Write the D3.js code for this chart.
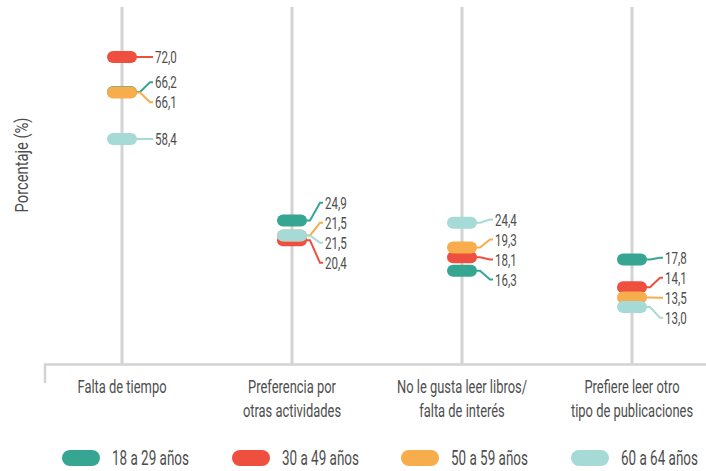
<!DOCTYPE html>
<html>
<head>
<meta charset="utf-8">
<script src="https://cdn.jsdelivr.net/npm/d3@7"></script>
<style>
  body { margin: 0; background: #fff; }
  text { font-family: Roboto, "Noto Sans", sans-serif; fill: #4d4d4d; }
</style>
</head>
<body>
<div id="chart"></div>
<script>
// reasons for not reading, by age group (percent)
const categories = [
    ["Falta de tiempo"],
    ["Preferencia por", "otras actividades"],
    ["No le gusta leer libros/", "falta de interés"],
    ["Prefiere leer otro", "tipo de publicaciones"]
];
const seriesNames = ["18 a 29 años", "30 a 49 años", "50 a 59 años", "60 a 64 años"];
const seriesColors = ["#36a693", "#ee4f3f", "#f8ad4c", "#a6dad6"];
const v18a29 = [66.2, 24.9, 16.3, 17.8];
const v30a49 = [72.0, 20.4, 18.1, 14.1];
const v50a59 = [66.1, 21.5, 19.3, 13.5];
const v60a64 = [58.4, 21.5, 24.4, 13.0];
const seriesValues = [v18a29, v30a49, v50a59, v60a64];

const width = 706, height = 471;

let svg = d3.select("#chart").append("svg")
    .attr("width", width)
    .attr("height", height);

let catKeys = categories.map(function(d) { return d.join(" "); });
let x = d3.scalePoint()
    .domain(catKeys)
    .range([122, 632]);

// the original is not proportional, so the scale is piecewise
let y = d3.scaleLinear()
    .domain([12, 14, 18, 20, 25, 58.4, 72])
    .range([326, 288, 258, 242, 220, 139, 57]);

const baseY = 364.5;

// text squeezed horizontally to look like a condensed face
function addText(g, tx, ty, str, anchor, size, squeeze) {
    return g.append("text")
        .attr("transform", "translate(" + tx + "," + ty + ") scale(" + squeeze + ",1)")
        .attr("text-anchor", anchor)
        .style("font-size", size + "px")
        .text(str);
}

// vertical grid lines for each category
svg.append("g").selectAll("line")
    .data(catKeys)
  .enter().append("line")
    .attr("x1", function(d) { return x(d); })
    .attr("x2", function(d) { return x(d); })
    .attr("y1", 7)
    .attr("y2", baseY)
    .style("stroke", "#d3d3d3")
    .style("stroke-width", 3);

// bottom axis line with the small left tick
svg.append("path")
    .attr("d", "M45," + 383 + "V" + baseY + "H" + width)
    .style("fill", "none")
    .style("stroke", "#d3d3d3")
    .style("stroke-width", 2.5);

// category labels
catKeys.forEach(function(k, i) {
    categories[i].forEach(function(line, j) {
        addText(svg, x(k), 393 + j * 24, line, "middle", 19, 0.68);
    });
});

// y axis label
svg.append("text")
    .attr("transform", "translate(28,165) rotate(-90) scale(0.82,1)")
    .attr("text-anchor", "middle")
    .style("font-size", "18px")
    .text("Porcentaje (%)");

// build points per category
let marks = svg.append("g");
catKeys.forEach(function(k, ci) {
    let cx = x(k);
    let pts = seriesValues.map(function(vals, si) {
        return {si: si, value: vals[ci], py: y(vals[ci])};
    });
    // label order top to bottom, stable for ties
    let sorted = pts.slice().sort(function(a, b) { return a.py - b.py || a.si - b.si; });
    sorted.forEach(function(p) { p.ly = p.py; });
    const gap = 20;
    for (let it = 0; it < 100; it++) {
        for (let i = 1; i < sorted.length; i++) {
            let d = sorted[i].ly - sorted[i-1].ly;
            if (d < gap) {
                let s = (gap - d) / 2;
                sorted[i-1].ly -= s;
                sorted[i].ly += s;
            }
        }
    }

    // leader lines
    pts.forEach(function(p) {
        marks.append("path")
            .attr("d", "M" + (cx + 12) + "," + p.py + "H" + (cx + 18) +
                       "L" + (cx + 28) + "," + p.ly + "H" + (cx + 31))
            .style("fill", "none")
            .style("stroke", seriesColors[p.si])
            .style("stroke-width", 2);
    });
    // pills, in series order so later ones sit on top
    pts.forEach(function(p) {
        marks.append("rect")
            .attr("x", cx - 15)
            .attr("y", p.py - 6)
            .attr("width", 30)
            .attr("height", 12)
            .attr("rx", 6)
            .style("fill", seriesColors[p.si]);
    });
    pts.forEach(function(p) {
        addText(marks, cx + 33, p.ly, d3.format(".1f")(p.value).replace(".", ","), "start", 17, 0.68)
            .attr("dy", "0.35em");
    });
});

// legend
let legendX = [62, 232, 401, 571];
let legend = svg.selectAll(".legend")
    .data(seriesNames)
  .enter().append("g")
    .attr("class", "legend")
    .attr("transform", function(d, i) { return "translate(" + legendX[i] + ",458)"; });

legend.append("rect")
    .attr("x", 0)
    .attr("y", -8)
    .attr("width", 38)
    .attr("height", 16)
    .attr("rx", 8)
    .style("fill", function(d, i) { return seriesColors[i]; });

legend.each(function(d) {
    addText(d3.select(this), 50, 0, d, "start", 19.5, 0.69).attr("dy", "0.36em");
});
</script>
</body>
</html>
